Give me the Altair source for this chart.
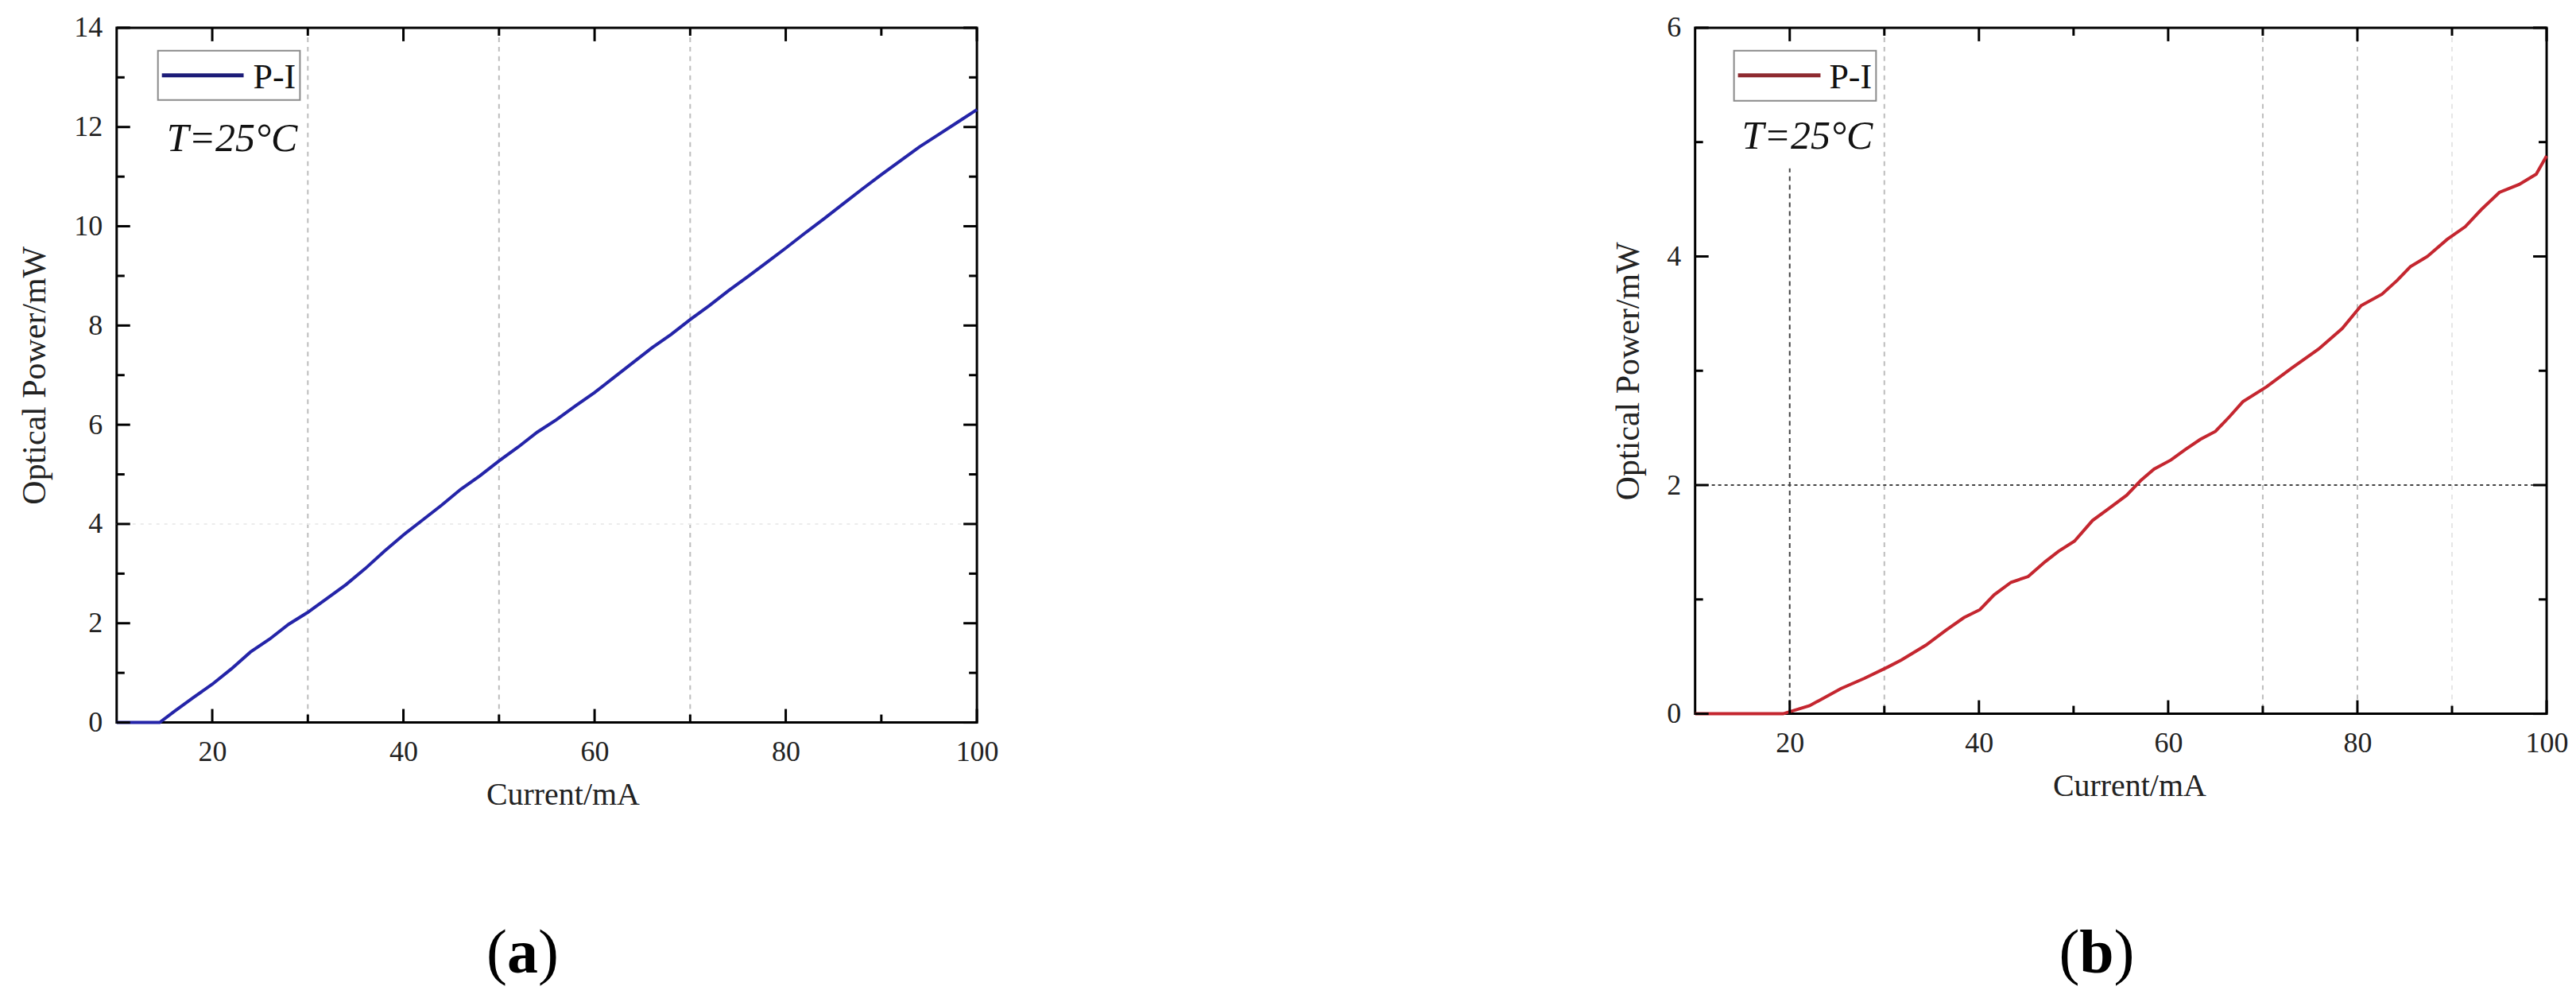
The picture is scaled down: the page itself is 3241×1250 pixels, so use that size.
import altair as alt
import pandas as pd

# ---------------- data ----------------
current_a = [10, 12, 14.5, 16, 18, 20, 22, 24, 26, 28, 30, 32, 34, 36, 38, 40, 42, 44, 46, 48,
             50, 52, 54, 56, 58, 60, 62, 64, 66, 68, 70, 72, 74, 76, 78, 80, 82, 84, 86, 88,
             90, 92, 94, 96, 98, 100]
power_a = [0, 0, 0, 0.22, 0.5, 0.77, 1.08, 1.42, 1.68, 1.98, 2.22, 2.5, 2.78, 3.1, 3.45, 3.78,
           4.08, 4.38, 4.7, 4.97, 5.27, 5.55, 5.85, 6.1, 6.38, 6.65, 6.95, 7.25, 7.55, 7.82,
           8.12, 8.4, 8.7, 8.98, 9.27, 9.56, 9.86, 10.15, 10.45, 10.75, 11.04, 11.32, 11.6,
           11.85, 12.1, 12.35]

current_b = [10, 15, 19.3, 22.1, 25.4, 27.9, 30.4, 31.8, 34.4, 36.5, 38.4, 40.1, 41.6, 43.4,
             45.2, 47.0, 48.4, 50.1, 52.0, 53.8, 55.6, 57.1, 58.5, 60.3, 61.8, 63.4, 65.0,
             66.5, 67.9, 70.4, 73.0, 75.9, 78.4, 80.4, 82.6, 84.2, 85.6, 87.4, 89.5, 91.4,
             93.1, 95.0, 97.1, 98.9, 100]
power_b = [0, 0, 0, 0.07, 0.22, 0.31, 0.41, 0.47, 0.60, 0.73, 0.84, 0.91, 1.04, 1.15, 1.20,
           1.33, 1.42, 1.51, 1.69, 1.80, 1.91, 2.04, 2.14, 2.22, 2.31, 2.40, 2.47, 2.60, 2.73,
           2.86, 3.02, 3.19, 3.37, 3.57, 3.67, 3.79, 3.91, 4.00, 4.15, 4.26, 4.41, 4.56, 4.63,
           4.72, 4.88]

series_name = ["P-I"]
x_domain = [10, 100]
x_major = [20, 40, 60, 80, 100]
x_minor = [30, 50, 70, 90]
ya_domain = [0, 14]
ya_major = [0, 2, 4, 6, 8, 10, 12, 14]
ya_minor = [1, 3, 5, 7, 9, 11, 13]
yb_domain = [0, 6]
yb_major = [0, 2, 4, 6]
yb_minor = [1, 3, 5]

grid_a_x = [30, 50, 70]
grid_a_y = [4]
grid_b_x_light = [30, 70, 80]
grid_b_x_faint = [90]
grid_b_x_dark = [20]
grid_b_x_dark_top = [4.77]
grid_b_y_dark = [2]

temp_text = ["T=25°C"]
x_title = "Current/mA"
y_title = "Optical Power/mW"
label_a = ["(", "a", ")"]
label_b = ["(", "b", ")"]

FONT = "Liberation Serif"
TXT = "#222222"


def panel(cur, pw, color, legend_color, W, H, ydom, ymaj, ymin, grids, letters,
          xtitle_x, ytitle_x, leg_box, leg_line, leg_text, text_x, text_y, letter_x,
          anchor=False):
    xs = alt.Scale(domain=x_domain, nice=False, zero=False)
    ys = alt.Scale(domain=ydom, nice=False, zero=False)
    xax = alt.Axis(
        values=x_major, ticks=False, tickSize=0, domain=False, grid=False,
        labelFont=FONT, labelFontSize=36, labelColor=TXT, labelPadding=20,
        labelFlush=False, labelOverlap=False,
        title=x_title, titleFont=FONT, titleFontSize=40, titleFontWeight="normal",
        titleColor=TXT, titleX=xtitle_x, titleY=91, titleBaseline="middle",
        titleAlign="center")
    yax = alt.Axis(
        values=ymaj, ticks=False, tickSize=0, domain=False, grid=False,
        labelFont=FONT, labelFontSize=36, labelColor=TXT, labelPadding=18,
        labelFlush=False, labelOverlap=False,
        title=y_title, titleFont=FONT, titleFontSize=42, titleFontWeight="normal",
        titleColor=TXT, titleX=ytitle_x, titleY=H / 2, titleAngle=-90,
        titleBaseline="middle", titleAlign="center")

    def X(field="current"):
        return alt.X(f"{field}:Q", scale=xs, axis=xax)

    def Y(field="power"):
        return alt.Y(f"{field}:Q", scale=ys, axis=yax)

    df = pd.DataFrame({"current": cur, "power": pw})

    layers = []
    layers += grids(X, Y)

    layers.append(alt.Chart(df).mark_line(strokeWidth=4, color=color).encode(x=X(), y=Y()))

    # inward ticks on all four sides
    def xticks(vals, length):
        d = pd.DataFrame({"current": vals})
        bot = alt.Chart(d).mark_rule(color="black", strokeWidth=3).encode(
            x=X(), y=alt.value(H), y2=alt.value(H - length))
        top = alt.Chart(d).mark_rule(color="black", strokeWidth=3).encode(
            x=X(), y=alt.value(0), y2=alt.value(length))
        return [bot, top]

    def yticks(vals, length):
        d = pd.DataFrame({"power": vals})
        lef = alt.Chart(d).mark_rule(color="black", strokeWidth=3).encode(
            y=Y(), x=alt.value(0), x2=alt.value(length))
        rig = alt.Chart(d).mark_rule(color="black", strokeWidth=3).encode(
            y=Y(), x=alt.value(W), x2=alt.value(W - length))
        return [lef, rig]

    layers += xticks(x_major, 17) + xticks(x_minor, 10)
    layers += yticks(ymaj, 17) + yticks(ymin, 10)

    # legend box (drawn inside the plot, like the original)
    sdf = pd.DataFrame({"s": series_name})
    bx0, bx1, by0, by1 = leg_box
    layers.append(alt.Chart(sdf).mark_rect(fill="white", stroke="#8a8a8a", strokeWidth=2).encode(
        x=alt.value(bx0), x2=alt.value(bx1), y=alt.value(by0), y2=alt.value(by1)))
    lx0, lx1, ly = leg_line
    layers.append(alt.Chart(sdf).mark_rule(color=legend_color, strokeWidth=5).encode(
        x=alt.value(lx0), x2=alt.value(lx1), y=alt.value(ly)))
    tx, ty = leg_text
    layers.append(alt.Chart(sdf).mark_text(
        font=FONT, fontSize=44, color="#111111", align="left", baseline="alphabetic").encode(
        x=alt.value(tx), y=alt.value(ty), text="s:N"))

    tdf = pd.DataFrame({"t": temp_text})
    layers.append(alt.Chart(tdf).mark_text(
        font=FONT, fontSize=50, fontStyle="italic", color="#111111", align="left",
        baseline="alphabetic").encode(x=alt.value(text_x), y=alt.value(text_y), text="t:N"))

    # panel letter "(a)" / "(b)"
    for i, ch in enumerate(letters):
        ldf = pd.DataFrame({"t": [ch]})
        layers.append(alt.Chart(ldf).mark_text(
            font=FONT, fontSize=78, fontWeight="bold" if i == 1 else "normal",
            color="black", align="center", baseline="alphabetic").encode(
            x=alt.value(letter_x[i]), y=alt.value(1190), text="t:N"))

    if anchor:
        adf = pd.DataFrame({"a": [0]})
        layers.append(alt.Chart(adf).mark_rule(strokeOpacity=0, strokeWidth=1).encode(
            x=alt.value(-137), y=alt.value(-24), y2=alt.value(-20)))

    return alt.layer(*layers).properties(width=W, height=H)


def grids_a(X, Y):
    gx = pd.DataFrame({"current": grid_a_x})
    gy = pd.DataFrame({"power": grid_a_y})
    return [
        alt.Chart(gx).mark_rule(color="#bdbdbd", strokeWidth=2, strokeDash=[6, 6]).encode(x=X()),
        alt.Chart(gy).mark_rule(color="#ececec", strokeWidth=2, strokeDash=[4, 6]).encode(y=Y()),
    ]


def grids_b(X, Y):
    gl = pd.DataFrame({"current": grid_b_x_light})
    gf = pd.DataFrame({"current": grid_b_x_faint})
    gd = pd.DataFrame({"current": grid_b_x_dark, "power": [0], "top": grid_b_x_dark_top})
    gy = pd.DataFrame({"power": grid_b_y_dark})
    return [
        alt.Chart(gl).mark_rule(color="#bdbdbd", strokeWidth=2, strokeDash=[6, 6]).encode(x=X()),
        alt.Chart(gf).mark_rule(color="#e6e6e6", strokeWidth=2, strokeDash=[6, 6]).encode(x=X()),
        alt.Chart(gd).mark_rule(color="#444444", strokeWidth=2, strokeDash=[6, 5]).encode(
            x=X(), y=Y(), y2="top:Q"),
        alt.Chart(gy).mark_rule(color="#444444", strokeWidth=2, strokeDash=[4, 4]).encode(y=Y()),
    ]


left = panel(current_a, power_a, "#2424a8", "#1c1c78", 1084, 875, ya_domain, ya_major, ya_minor,
             grids_a, label_a, xtitle_x=562, ytitle_x=-103,
             leg_box=(52, 231, 29, 91), leg_line=(57, 160, 60), leg_text=(172, 76),
             text_x=63, text_y=155, letter_x=[479, 511.5, 544], anchor=True)
right = panel(current_b, power_b, "#c4262f", "#8e2a30", 1073, 864, yb_domain, yb_major, yb_minor,
              grids_b, label_b, xtitle_x=547, ytitle_x=-84,
              leg_box=(49, 228, 29, 92), leg_line=(54, 158, 60), leg_text=(169, 76),
              text_x=59, text_y=152, letter_x=[471.5, 506, 540.5])

chart = alt.hconcat(left, right, spacing=905, bounds="flush").resolve_scale(
    x="independent", y="independent"
).properties(padding=0, background="white").configure_view(
    stroke="black", strokeWidth=3
)

chart.save("out.html", embed_options={"renderer": "svg", "actions": False})
